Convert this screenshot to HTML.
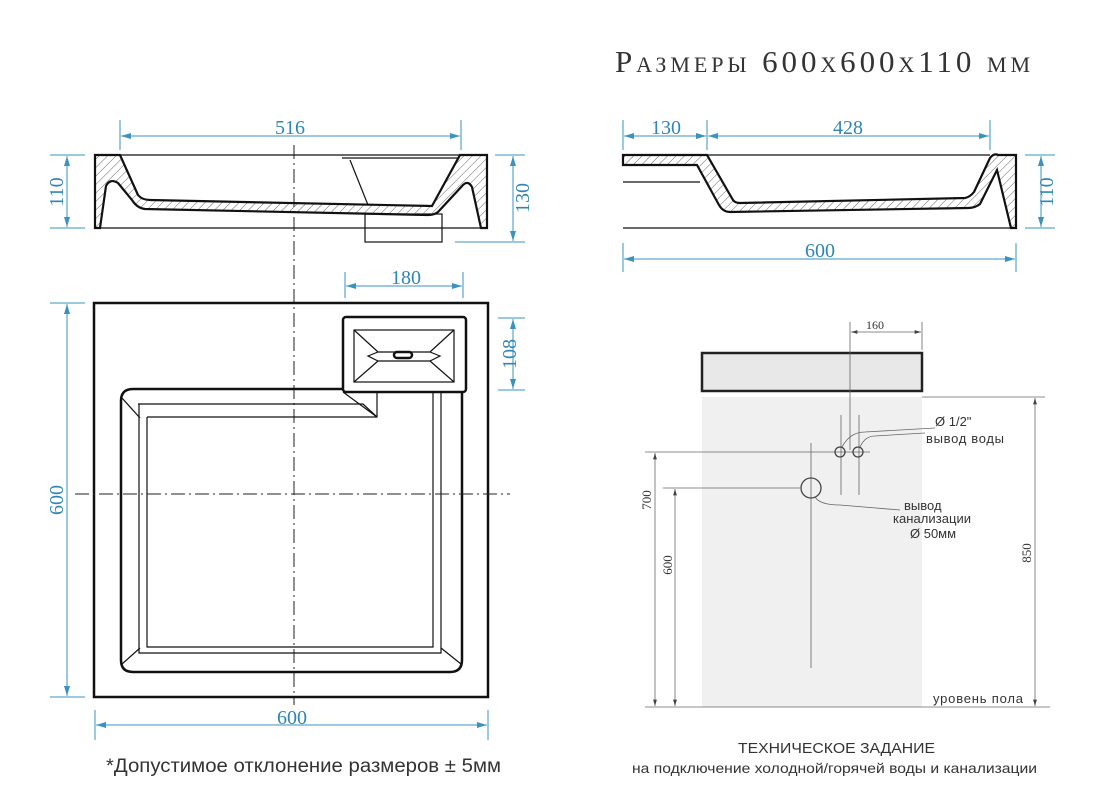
<!DOCTYPE html>
<html><head><meta charset="utf-8"><style>
body{margin:0;background:#fff}
svg{display:block}
.d{stroke:#3a93bf;stroke-width:1;fill:none}
.dt{fill:#2f86b4;font-family:"Liberation Serif",serif;font-size:20px}
.k{stroke:#111;fill:none;stroke-width:2.5}
.t{stroke:#111;fill:none;stroke-width:1.2}
.g{stroke:#666;fill:none;stroke-width:.8}
.s{font-family:"Liberation Sans",sans-serif;fill:#333}
</style></head><body>
<svg width="1105" height="800" viewBox="0 0 1105 800" xmlns="http://www.w3.org/2000/svg">
<defs>
<marker id="a" viewBox="0 0 10 6" refX="10" refY="3" markerWidth="10" markerHeight="6" orient="auto-start-reverse"><path d="M0,0L10,3L0,6z" fill="#3a93bf"/></marker>
<marker id="b" viewBox="0 0 10 6" refX="10" refY="3" markerWidth="8" markerHeight="5" orient="auto-start-reverse"><path d="M0,0L10,3L0,6z" fill="#444"/></marker>
<pattern id="h" width="6" height="6" patternUnits="userSpaceOnUse" patternTransform="rotate(45)"><line x1="0" y1="0" x2="0" y2="6" stroke="#666" stroke-width="1"/></pattern>
</defs>
<text x="615" y="72" font-family="Liberation Serif,serif" font-size="31" fill="#333" textLength="415" lengthAdjust="spacing" style="font-variant:small-caps">Размеры 600x600x110 мм</text>

<!-- left section -->
<line x1="294" y1="145" x2="294" y2="705" stroke="#222" stroke-width="1" stroke-dasharray="14,4,2,4"/>
<line x1="95" y1="155" x2="487" y2="155" class="t"/>
<line x1="95" y1="228" x2="487" y2="228" class="t"/>
<line x1="342" y1="158" x2="458" y2="158" class="t"/>
<line x1="350" y1="160" x2="368" y2="205" class="t"/>
<rect x="365" y="214" width="77" height="28" class="t" fill="#fff"/>
<path d="M95,155L120,155L138,195Q142,200 150,200L432,206L460,155L487,155L487,228L481,228L472,187Q468,180 463,185L438,212Q434,215 428,215L145,209Q137,208 132,200L118,183Q110,178 106,186L100,228L95,228Z" fill="url(#h)" stroke="#111" stroke-width="2.2"/>
<line class="d" x1="120" y1="120" x2="120" y2="150"/><line class="d" x1="461" y1="120" x2="461" y2="150"/>
<line class="d" x1="121" y1="136" x2="460" y2="136" marker-start="url(#a)" marker-end="url(#a)"/>
<text class="dt" x="290" y="134" text-anchor="middle">516</text>
<line class="d" x1="50" y1="155" x2="85" y2="155"/><line class="d" x1="50" y1="228" x2="85" y2="228"/>
<line class="d" x1="67" y1="156" x2="67" y2="227" marker-start="url(#a)" marker-end="url(#a)"/>
<text class="dt" transform="translate(63,192) rotate(-90)" text-anchor="middle">110</text>
<line class="d" x1="495" y1="155" x2="525" y2="155"/><line class="d" x1="455" y1="242" x2="525" y2="242"/>
<line class="d" x1="513" y1="156" x2="513" y2="241" marker-start="url(#a)" marker-end="url(#a)"/>
<text class="dt" transform="translate(529,198) rotate(-90)" text-anchor="middle">130</text>

<!-- right section -->
<line x1="623" y1="228" x2="1016" y2="228" class="t"/>
<line x1="623" y1="182" x2="700" y2="182" class="t"/>
<line x1="707" y1="155" x2="990" y2="155" class="t"/>
<path d="M623,155L707,155L733,200Q735,203 740,203L965,198Q970,197 974,192L990,158Q994,153 998,155L1016,155L1016,228L1011,228L997,170L980,204Q975,208 968,208L730,212Q723,212 719,205L697,165L623,165Z" fill="url(#h)" stroke="#111" stroke-width="2.2"/>
<line class="d" x1="623" y1="120" x2="623" y2="150"/><line class="d" x1="707" y1="120" x2="707" y2="150"/><line class="d" x1="990" y1="120" x2="990" y2="150"/>
<line class="d" x1="624" y1="136" x2="706" y2="136" marker-start="url(#a)" marker-end="url(#a)"/>
<line class="d" x1="708" y1="136" x2="989" y2="136" marker-start="url(#a)" marker-end="url(#a)"/>
<text class="dt" x="666" y="134" text-anchor="middle">130</text>
<text class="dt" x="848" y="134" text-anchor="middle">428</text>
<line class="d" x1="623" y1="243" x2="623" y2="272"/><line class="d" x1="1016" y1="243" x2="1016" y2="272"/>
<line class="d" x1="624" y1="259" x2="1015" y2="259" marker-start="url(#a)" marker-end="url(#a)"/>
<text class="dt" x="820" y="257" text-anchor="middle">600</text>
<line class="d" x1="1025" y1="155" x2="1055" y2="155"/><line class="d" x1="1025" y1="228" x2="1055" y2="228"/>
<line class="d" x1="1041" y1="156" x2="1041" y2="227" marker-start="url(#a)" marker-end="url(#a)"/>
<text class="dt" transform="translate(1053,192) rotate(-90)" text-anchor="middle">110</text>

<!-- plan view -->
<rect x="94" y="303" width="394" height="394" class="k"/>
<path d="M343,389L133,389Q121,389 121,401L121,660Q121,672 133,672L450,672Q462,672 462,660L462,392" class="k"/>
<path d="M147,417L147,647L433,647L433,392M377,392L377,417L147,417" class="t"/>
<path d="M138,404L363,404L377,417M441,392L441,653L139,653L139,404" class="t"/>
<line x1="122" y1="398" x2="140" y2="418" class="t"/><line x1="122" y1="664" x2="140" y2="648" class="t"/><line x1="461" y1="664" x2="441" y2="648" class="t"/><line x1="343" y1="392" x2="377" y2="417" class="t"/>
<rect x="343" y="317" width="123" height="75" rx="3" class="k"/>
<rect x="354" y="330" width="100" height="52" class="t"/>
<path d="M354,330L378,352L430,352L454,330M354,382L378,361L430,361L454,382M378,352L368,356L378,361M430,352L440,356L430,361" class="t"/>
<rect x="394" y="352" width="18" height="6" rx="3" class="k" stroke-width="2"/>
<line class="d" x1="345" y1="272" x2="345" y2="298"/><line class="d" x1="463" y1="272" x2="463" y2="298"/>
<line class="d" x1="346" y1="286" x2="462" y2="286" marker-start="url(#a)" marker-end="url(#a)"/>
<text class="dt" x="406" y="284" text-anchor="middle">180</text>
<line class="d" x1="498" y1="318" x2="525" y2="318"/><line class="d" x1="498" y1="390" x2="525" y2="390"/>
<line class="d" x1="513" y1="319" x2="513" y2="389" marker-start="url(#a)" marker-end="url(#a)"/>
<text class="dt" transform="translate(516,354) rotate(-90)" text-anchor="middle">108</text>
<line class="d" x1="50" y1="303" x2="85" y2="303"/><line class="d" x1="50" y1="697" x2="85" y2="697"/>
<line class="d" x1="67" y1="304" x2="67" y2="696" marker-start="url(#a)" marker-end="url(#a)"/>
<text class="dt" transform="translate(63,500) rotate(-90)" text-anchor="middle">600</text>
<line x1="75" y1="494" x2="510" y2="494" stroke="#222" stroke-width="1" stroke-dasharray="14,4,2,4"/>
<line class="d" x1="95" y1="710" x2="95" y2="740"/><line class="d" x1="488" y1="710" x2="488" y2="740"/>
<line class="d" x1="96" y1="725" x2="487" y2="725" marker-start="url(#a)" marker-end="url(#a)"/>
<text class="dt" x="292" y="724" text-anchor="middle">600</text>
<text class="s" x="106" y="772" font-size="19" fill="#222" textLength="395" lengthAdjust="spacingAndGlyphs">*Допустимое отклонение размеров ± 5мм</text>

<!-- tech spec -->
<rect x="702" y="397" width="220" height="310" fill="#f0f0f0"/>
<rect x="702" y="353" width="220" height="38" fill="#e8e8e8" stroke="#222" stroke-width="2.5"/>
<line class="g" x1="850" y1="322" x2="850" y2="450"/><line class="g" x1="922" y1="322" x2="922" y2="350"/>
<line class="g" x1="851" y1="332" x2="921" y2="332" marker-start="url(#b)" marker-end="url(#b)"/>
<text x="866" y="329" font-family="Liberation Serif,serif" font-size="12" fill="#333">160</text>
<line class="g" x1="841" y1="415" x2="841" y2="495"/><line class="g" x1="859" y1="415" x2="859" y2="495"/>
<line class="g" x1="645" y1="452" x2="870" y2="452"/>
<circle cx="840" cy="452" r="5" fill="none" stroke="#444" stroke-width="1.3"/>
<circle cx="858" cy="452" r="5" fill="none" stroke="#444" stroke-width="1.3"/>
<line class="g" x1="811" y1="443" x2="811" y2="668"/>
<line class="g" x1="663" y1="488" x2="800" y2="488"/>
<circle cx="811" cy="488" r="10" fill="none" stroke="#444" stroke-width="1.3"/>
<path class="g" d="M842,447Q850,432 865,432L935,428M860,447Q865,436 875,436L925,433M815,497Q820,505 840,505L900,510"/>
<g class="s" font-size="13"><text x="935" y="426">Ø 1/2"</text><text x="926" y="443" textLength="78">вывод воды</text>
<text x="904" y="510">вывод</text><text x="893" y="523" textLength="78">канализации</text><text x="910" y="538">Ø 50мм</text>
<text x="933" y="703" textLength="90">уровень пола</text></g>
<line class="g" x1="645" y1="707" x2="1050" y2="707"/>
<line class="g" x1="655" y1="453" x2="655" y2="706" marker-start="url(#b)" marker-end="url(#b)"/>
<line class="g" x1="675" y1="489" x2="675" y2="706" marker-start="url(#b)" marker-end="url(#b)"/>
<line class="g" x1="922" y1="397" x2="1045" y2="397"/>
<line class="g" x1="1035" y1="398" x2="1035" y2="706" marker-start="url(#b)" marker-end="url(#b)"/>
<g font-family="Liberation Serif,serif" font-size="13" fill="#333">
<text transform="translate(651,500) rotate(-90)" text-anchor="middle">700</text>
<text transform="translate(672,565) rotate(-90)" text-anchor="middle">600</text>
<text transform="translate(1031,553) rotate(-90)" text-anchor="middle">850</text></g>
<text class="s" x="738" y="753" font-size="15" textLength="197" lengthAdjust="spacingAndGlyphs">ТЕХНИЧЕСКОЕ ЗАДАНИЕ</text>
<text class="s" x="632" y="773" font-size="14" textLength="405" lengthAdjust="spacingAndGlyphs">на подключение холодной/горячей воды и канализации</text>
</svg>
</body></html>
